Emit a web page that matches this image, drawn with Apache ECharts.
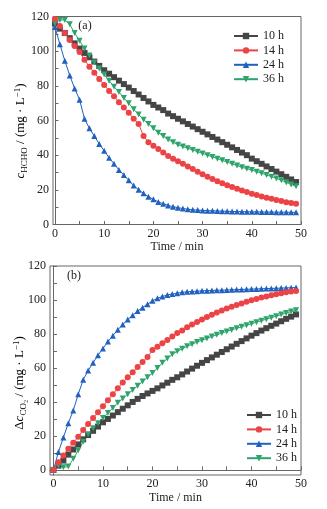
<!DOCTYPE html>
<html>
<head>
<meta charset="utf-8">
<script src="https://cdn.jsdelivr.net/npm/echarts@6/dist/echarts.min.js"></script>
<style>
  html, body { margin: 0; padding: 0; background: #fff; }
  #chart { width: 327px; height: 509px; }
</style>
</head>
<body>
<div id="chart"></div>
<script>
// time axis (min)
var minutes = [0,1,2,3,4,5,6,7,8,9,10,11,12,13,14,15,16,17,18,19,20,21,22,23,24,25,26,27,28,29,30,31,32,33,34,35,36,37,38,39,40,41,42,43,44,45,46,47,48,49];
var seriesNames = ['10 h', '14 h', '24 h', '36 h'];
var xLabels = [0, 10, 20, 30, 40, 50];
var xTicks = [0, 5, 10, 15, 20, 25, 30, 35, 40, 45, 50];
var yLabels = [0, 20, 40, 60, 80, 100, 120];
var yTicks = [0, 10, 20, 30, 40, 50, 60, 70, 80, 90, 100, 110, 120];

// (a) HCHO concentration
var hcho10 = [116,113,110.5,107.5,104.5,101.5,99,96.5,94,91.5,89,87,85,83,81,79,77,75,73,71,69,67.5,66,64,62.5,61,59.5,58,56.5,55,53.5,52,50.5,49,47.5,46,44.5,43,41.5,40,38,36.5,35,33.5,32,30.5,29,27.5,26,24.5];
var hcho14 = [118.5,114.5,110.5,106.5,103,99.5,95,91,87.5,84,80.5,77,74,70.5,67.5,64.5,61,58,51,47.5,45.5,43.5,41.5,39.5,38,36.5,35,33.5,32,30.5,29,27.5,26.3,25,23.8,22.7,21.6,20.6,19.6,18.7,17.8,17,16.2,15.5,14.8,14.1,13.5,12.9,12.4,12];
var hcho24 = [114,104,94.5,86,78.5,72,61,55.5,51,46.5,42.5,38.5,35,31.5,28.5,25.5,22.5,20,18,16,14.5,13,12,11,10.3,9.7,9.2,8.8,8.5,8.3,8.1,8,7.9,7.8,7.7,7.6,7.5,7.5,7.4,7.4,7.3,7.3,7.2,7.2,7.2,7.1,7.1,7.1,7,7];
var hcho36 = [116,118,118,115.5,110.5,106,101.5,97.5,93.5,90,86.5,83,79.5,76.5,73,70,66.5,63.5,60.5,58,55.5,53,51,49,47.5,46,45,44,43,42,41,40,39,38,37,36,35,34,33,32.2,31.4,30.5,29.6,28.6,27.6,26.6,25.5,24.3,23.1,22];

// (b) CO2 increase
var co2_10 = [0,2.5,5.5,9,12,15,18,20.5,23,25.5,28,30,32,34,36,38,40,41.8,43.5,45,46.5,48,49.7,51.3,53,54.5,56.2,57.9,59.6,61.3,63,64.6,66.2,67.8,69.4,71,72.6,74.2,75.8,77.4,79,80.5,82,83.4,84.8,86.1,87.5,88.9,90.2,91.5];
var co2_14 = [0,4.5,8.5,12.5,16,19.5,23.5,27,30.5,34,37.5,41,44.5,48,51.5,54.5,57.5,60.5,63.5,66.5,70.5,72.5,74.5,76.5,78.5,80.5,82,84,85.5,87,88.5,90,91.3,92.6,93.8,95,96,97,98,99,99.8,100.6,101.4,102.1,102.8,103.4,104,104.5,105,105.3];
var co2_24 = [0,10.5,19,27.5,35,44.5,53,58.5,63,67.5,71.5,75.5,79,82.5,85.5,88.5,91,93.5,95.5,97.5,99.5,101,102,103,103.5,104,104.5,104.8,105,105.2,105.4,105.5,105.6,105.7,105.8,105.9,106,106.1,106.2,106.3,106.4,106.5,106.6,106.7,106.8,106.9,107,107.1,107.2,107.3];
var co2_36 = [0,2.5,1.5,2,6.5,11.5,16.5,21,24.5,27.5,30.5,33.5,36.5,39.5,42,44.5,47,49.5,52,54.5,57,60,63,65.5,68,69.8,71.3,72.7,74,75.2,76.3,77.4,78.5,79.5,80.5,81.5,82.4,83.3,84.2,85.1,86,86.9,87.8,88.7,89.6,90.5,91.4,92.3,93.2,94];

var colors = ['#454545', '#ec4346', '#2161c0', '#2ea46c'];
var symbols = ['rect', 'circle', 'triangle', 'triangle'];
var rotations = [0, 0, 0, 180];
var font = 'Liberation Serif';

function pairs(ys) {
    return minutes.map(function (t, i) { return [t, ys[i]]; });
}

function makeSeries(list, axisIdx) {
    return list.map(function (ys, k) {
        return {
            name: seriesNames[k],
            type: 'line',
            xAxisIndex: axisIdx,
            yAxisIndex: axisIdx,
            data: pairs(ys),
            symbol: symbols[k],
            symbolRotate: rotations[k],
            symbolSize: 6,
            showSymbol: true,
            itemStyle: { color: colors[k] },
            lineStyle: { color: colors[k], width: 1 },
            z: k === 1 ? 3 : 2
        };
    });
}

function xAx(idx, min, gap) {
    return {
        type: 'value', gridIndex: idx, min: min, max: 50,
        name: 'Time / min', nameLocation: 'middle', nameGap: gap,
        nameTextStyle: { fontFamily: font, fontSize: 12, color: '#222' },
        axisLine: { lineStyle: { color: '#666', width: 1 } },
        axisTick: { inside: true, length: 3.5, customValues: xTicks, lineStyle: { color: '#666' } },
        axisLabel: { fontFamily: font, fontSize: 12, color: '#222', margin: 3, customValues: xLabels },
        splitLine: { show: false }
    };
}

function yAx(idx, min) {
    return {
        type: 'value', gridIndex: idx, min: min, max: 120,
        axisLine: { show: true, lineStyle: { color: '#666', width: 1 } },
        axisTick: { show: true, inside: true, length: 3.5, customValues: yTicks, lineStyle: { color: '#666' } },
        axisLabel: { fontFamily: font, fontSize: 12, color: '#222', margin: 4, customValues: yLabels },
        splitLine: { show: false }
    };
}

var richLabel = {
    i: { fontFamily: font, fontSize: 13, fontStyle: 'italic', color: '#222' },
    s: { fontFamily: font, fontSize: 9, color: '#222', padding: [7, 0, 0, 0] },
    p: { fontFamily: font, fontSize: 9, color: '#222', padding: [0, 0, 7, 0] },
    n: { fontFamily: font, fontSize: 13, color: '#222' }
};

function legendAt(left, top) {
    return {
        data: seriesNames, orient: 'vertical', left: left, top: top,
        itemWidth: 24, itemHeight: 8, itemGap: 2.4,
        textStyle: { fontFamily: font, fontSize: 12, lineHeight: 12, color: '#222' }
    };
}

var chart = echarts.init(document.getElementById('chart'));
var option = {
    backgroundColor: '#fff',
    animation: false,
    grid: [
        { left: 53, top: 16.5, width: 248, height: 208, show: true, borderColor: '#666', borderWidth: 1 },
        { left: 50, top: 266, width: 251, height: 209, show: true, borderColor: '#666', borderWidth: 1 }
    ],
    xAxis: [xAx(0, -0.4, 14), xAx(1, -0.7, 17)],
    yAxis: [yAx(0, 0), yAx(1, -3)],
    legend: [legendAt(228, 25), legendAt(241, 404)],
    graphic: [
        { type: 'text', x: 85, y: 26, style: { text: '(a)', font: '12px ' + font, fill: '#222', align: 'center', verticalAlign: 'middle' } },
        { type: 'text', x: 74, y: 276, style: { text: '(b)', font: '12px ' + font, fill: '#222', align: 'center', verticalAlign: 'middle' } },
        {
            type: 'text', x: 21, y: 131, rotation: Math.PI / 2,
            style: { text: '{i|c}{s|HCHO}{n| / (mg · L}{p|−1}{n|)}', rich: richLabel, align: 'center', verticalAlign: 'middle' }
        },
        {
            type: 'text', x: 20, y: 383, rotation: Math.PI / 2,
            style: { text: '{n|Δ}{i|c}{s|CO₂}{n| / (mg · L}{p|−1}{n|)}', rich: richLabel, align: 'center', verticalAlign: 'middle' }
        }
    ],
    series: makeSeries([hcho10, hcho14, hcho24, hcho36], 0)
        .concat(makeSeries([co2_10, co2_14, co2_24, co2_36], 1))
};
chart.setOption(option);
</script>
</body>
</html>
